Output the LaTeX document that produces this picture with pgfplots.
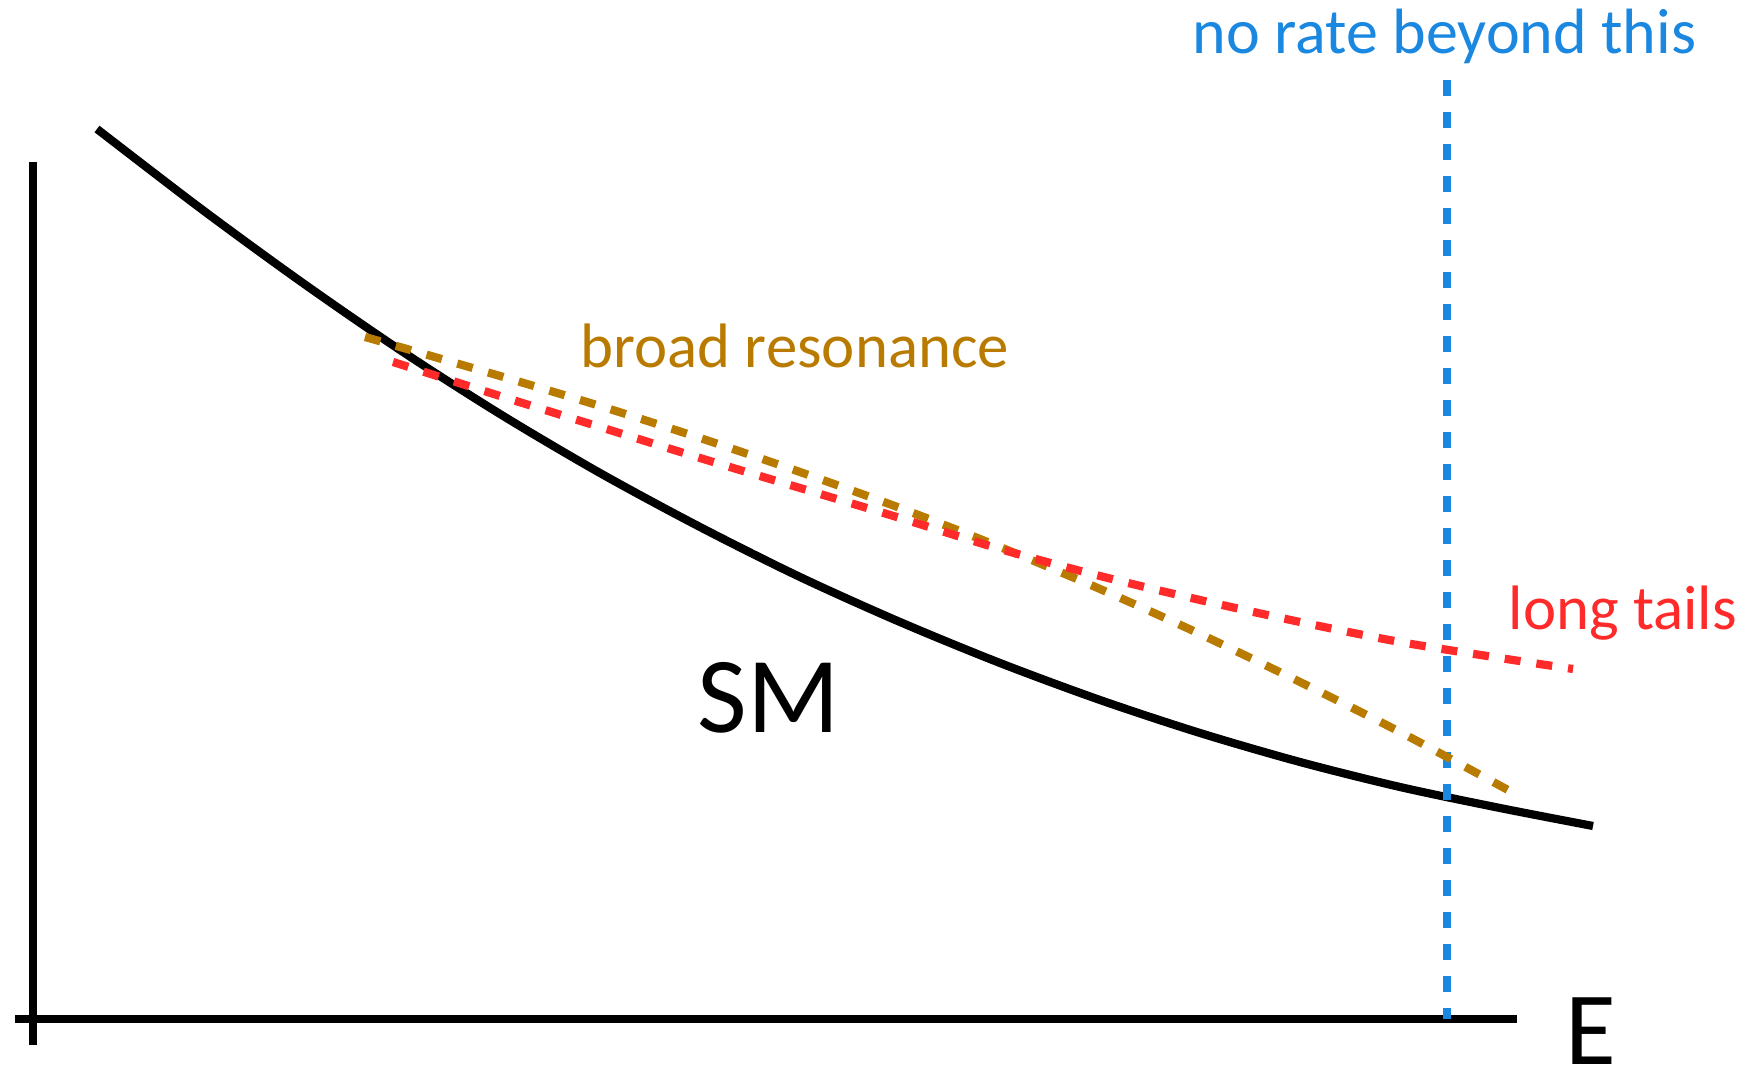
\documentclass[border=0pt]{standalone}
\usepackage{pgfplots}
\pgfplotsset{compat=1.18}
\usepackage{fontspec}
\setmainfont{Carlito}

\definecolor{rateblue}{HTML}{1A87E0}
\definecolor{resgold}{HTML}{B87B00}
\definecolor{tailred}{HTML}{FF2B2B}

% coordinates are image pixels (y downwards), 1 px = 0.25 pt
\begin{document}
\begin{tikzpicture}
\begin{axis}[
    width=436.25pt, height=269.5pt, scale only axis,
    xmin=0, xmax=1745, ymin=0, ymax=1078, y dir=reverse,
    axis line style={draw=none}, ticks=none, clip=false,
    every axis plot/.append style={line width=2.05pt},
    dashed line/.style={dash pattern=on 4pt off 4pt},
]
% axes
\addplot[black] coordinates {(33,162) (33,1045)};
\addplot[black] coordinates {(15,1019) (1517,1019)};

% SM
\addplot[black, smooth] coordinates {
    (97,129) (200,208) (300,281) (400,350) (500,414) (600,473)
    (700,527) (800,577) (900,622) (1000,663) (1100,700) (1200,733)
    (1300,762) (1400,787) (1500,808) (1593,826)
};

% no rate beyond this
\addplot[rateblue, dashed line] coordinates {(1447,80) (1447,1019)};

% broad resonance
\addplot[resgold, dashed line, smooth] coordinates {
    (365,337) (400,347) (500,376) (600,406) (700,438) (800,472)
    (900,508) (1000,547) (1100,589) (1200,634) (1300,682) (1400,732)
    (1508,790)
};

% long tails
\addplot[tailred, dashed line, smooth] coordinates {
    (393,362) (500,396) (600,427) (700,458) (800,488) (900,518)
    (1000,549) (1100,576) (1200,600) (1300,622) (1400,642) (1500,658)
    (1573,669)
};

\node[anchor=base west, inner sep=0, text=rateblue,
      font=\fontsize{16}{18}\selectfont] at (axis cs:1192,54) {no rate beyond this};
\node[anchor=base west, inner sep=0, text=resgold,
      font=\fontsize{15.7}{18}\selectfont] at (axis cs:580,368) {broad resonance};
\node[anchor=base west, inner sep=0, text=tailred,
      font=\fontsize{15.7}{18}\selectfont] at (axis cs:1508,630) {long tails};
\node[anchor=base west, inner sep=0,
      font=\fontsize{27}{30}\selectfont] at (axis cs:697,733) {SM};
\node[anchor=base west, inner sep=0,
      font=\fontsize{26}{28}\selectfont] at (axis cs:1565,1064) {E};
\end{axis}
\end{tikzpicture}
\end{document}
